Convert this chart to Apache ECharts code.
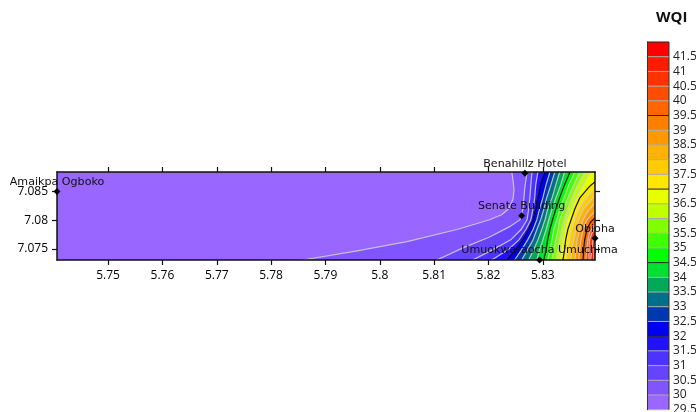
<!DOCTYPE html>
<html>
<head>
<meta charset="utf-8">
<script src="https://cdn.jsdelivr.net/npm/echarts@6/dist/echarts.min.js"></script>
<style>html,body{margin:0;padding:0;background:#fff}#c{width:696px;height:412px}</style>
</head>
<body>
<div id="c"></div>
<script>
const lonMin = 5.7406, lonMax = 5.8396, latMin = 7.0731, latMax = 7.0884;
const lonTicks = [5.75, 5.76, 5.77, 5.78, 5.79, 5.8, 5.81, 5.82, 5.83];
const latTicks = [7.075, 7.08, 7.085];
const levels = [29.5, 30, 30.5, 31, 31.5, 32, 32.5, 33, 33.5, 34, 34.5, 35, 35.5, 36, 36.5, 37, 37.5, 38, 38.5, 39, 39.5, 40, 40.5, 41, 41.5];
const blackLevels = [32, 34.5, 37, 39.5];
const bandColors = ['#9966ff', '#8055ff', '#6644ff', '#4d33ff', '#2211ff', '#0000f0', '#0038b0', '#007088', '#00a858', '#00e030', '#00ff00', '#40ff00', '#80ff00', '#bfff00', '#e8ff00', '#ffe600', '#ffcc00', '#ffb300', '#ff9900', '#ff8000', '#ff6600', '#ff4d00', '#ff3300', '#ff1a00', '#ff0000'];
const colorbarMax = 42;

const siteNames = ['Benahillz Hotel', 'Senate Building', 'Obioha', 'Umuokwaraocha Umuchima', 'Amaikpa Ogboko'];
const siteLon = [5.8267, 5.8261, 5.8396, 5.8294, 5.7406];
const siteLat = [7.0882, 7.0808, 7.0769, 7.0731, 7.0850];

const rowLat = [7.0731, 7.0749, 7.0766, 7.0784, 7.0801, 7.0820, 7.0839, 7.0862, 7.0884];
const lon31 = [5.8171, 5.8208, 5.8241, 5.8260, 5.8271, 5.8274, 5.8276, 5.8278, 5.8280];
const lon315 = [5.8206, 5.8236, 5.8256, 5.8269, 5.8278, 5.8282, 5.8285, 5.8287, 5.8291];
const lon32 = [5.8234, 5.8250, 5.8263, 5.8274, 5.8282, 5.8287, 5.8291, 5.8296, 5.8304];
const lon325 = [5.8248, 5.8261, 5.8272, 5.8282, 5.8289, 5.8294, 5.8300, 5.8306, 5.8313];
const lon33 = [5.8261, 5.8272, 5.8282, 5.8289, 5.8296, 5.8302, 5.8307, 5.8315, 5.8322];
const lon335 = [5.8274, 5.8283, 5.8291, 5.8298, 5.8304, 5.8309, 5.8317, 5.8324, 5.8331];
const lon34 = [5.8289, 5.8294, 5.8300, 5.8306, 5.8311, 5.8317, 5.8324, 5.8333, 5.8340];
const lon345 = [5.8302, 5.8306, 5.8309, 5.8313, 5.8318, 5.8324, 5.8331, 5.8340, 5.8350];
const lon35 = [5.8309, 5.8313, 5.8317, 5.8320, 5.8326, 5.8331, 5.8339, 5.8348, 5.8359];
const lon355 = [5.8317, 5.8320, 5.8324, 5.8328, 5.8331, 5.8339, 5.8346, 5.8357, 5.8368];
const lon36 = [5.8324, 5.8328, 5.8331, 5.8335, 5.8339, 5.8346, 5.8353, 5.8364, 5.8377];
const lon365 = [5.8331, 5.8333, 5.8337, 5.8340, 5.8344, 5.8352, 5.8361, 5.8374, 5.8386];

const line295 = [[5.7406, 7.0731], [5.7406, 7.0884]];
const line30 = [[5.7858, 7.0731], [5.7958, 7.0747], [5.8050, 7.0763], [5.8142, 7.0784], [5.8202, 7.0801], [5.8225, 7.0810], [5.8237, 7.0820], [5.8245, 7.0836], [5.8247, 7.0853], [5.8245, 7.0870], [5.8243, 7.0884]];
const line305 = [[5.8105, 7.0731], [5.8153, 7.0752], [5.8202, 7.0771], [5.8239, 7.0789], [5.8258, 7.0801], [5.8263, 7.0818], [5.8265, 7.0836], [5.8267, 7.0858], [5.8271, 7.0884]];
const line37 = [[5.8337, 7.0731], [5.8340, 7.0749], [5.8342, 7.0766], [5.8346, 7.0784], [5.8352, 7.0801], [5.8359, 7.0820], [5.8368, 7.0839], [5.8386, 7.0859], [5.8396, 7.0867]];
const line375 = [[5.8344, 7.0731], [5.8346, 7.0749], [5.8350, 7.0766], [5.8353, 7.0784], [5.8359, 7.0801], [5.8366, 7.0818], [5.8377, 7.0836], [5.8396, 7.0855]];
const line38 = [[5.8352, 7.0731], [5.8353, 7.0749], [5.8357, 7.0766], [5.8361, 7.0784], [5.8366, 7.0801], [5.8375, 7.0820], [5.8396, 7.0843]];
const line385 = [[5.8359, 7.0731], [5.8361, 7.0749], [5.8363, 7.0766], [5.8368, 7.0784], [5.8374, 7.0801], [5.8383, 7.0816], [5.8396, 7.0830]];
const line39 = [[5.8366, 7.0731], [5.8368, 7.0749], [5.8370, 7.0766], [5.8374, 7.0784], [5.8381, 7.0801], [5.8396, 7.0816]];
const line395 = [[5.8374, 7.0731], [5.8375, 7.0749], [5.8377, 7.0766], [5.8381, 7.0784], [5.8388, 7.0797], [5.8396, 7.0804]];
const line40 = [[5.8379, 7.0731], [5.8381, 7.0749], [5.8383, 7.0766], [5.8386, 7.0780], [5.8396, 7.0792]];
const line405 = [[5.8385, 7.0731], [5.8385, 7.0749], [5.8386, 7.0766], [5.8390, 7.0777], [5.8396, 7.0786]];
const line41 = [[5.8388, 7.0731], [5.8390, 7.0749], [5.8392, 7.0764], [5.8396, 7.0773]];
const line415 = [[5.8394, 7.0731], [5.8394, 7.0749], [5.8396, 7.0761]];

const onRows = lons => lons.map((lon, i) => [lon, rowLat[i]]);
const isolines = [line295, line30, line305, onRows(lon31), onRows(lon315), onRows(lon32), onRows(lon325), onRows(lon33), onRows(lon335), onRows(lon34), onRows(lon345), onRows(lon35), onRows(lon355), onRows(lon36), onRows(lon365), line37, line375, line38, line385, line39, line395, line40, line405, line41, line415];

const textFont = '"Open Sans", sans-serif';
const frame = { show: true, onZero: false, lineStyle: { color: '#111', width: 1.5 } };
const lonAxis = (position, showLabel) => ({
  type: 'value', gridIndex: 0, position, min: lonMin, max: lonMax, z: 4,
  splitLine: { show: false }, axisLine: frame,
  axisTick: { show: true, length: 5, customValues: lonTicks, lineStyle: { color: '#111', width: 1.2 } },
  axisLabel: { show: showLabel, customValues: lonTicks, color: '#000', fontFamily: textFont, fontSize: 12, margin: 10, formatter: v => String(v) }
});
const latAxis = (position, showLabel) => ({
  type: 'value', gridIndex: 0, position, min: latMin, max: latMax, z: 4,
  splitLine: { show: false }, axisLine: frame,
  axisTick: { show: true, length: 5, customValues: latTicks, lineStyle: { color: '#111', width: 1.2 } },
  axisLabel: { show: showLabel, customValues: latTicks, color: '#000', fontFamily: textFont, fontSize: 12, margin: 9, formatter: v => String(v) }
});

const chart = echarts.init(document.getElementById('c'), null, { renderer: 'canvas' });
chart.setOption({
  animation: false,
  backgroundColor: '#fff',
  title: { text: 'WQI', left: 651, top: 5, textStyle: { fontFamily: textFont, fontSize: 15, fontWeight: 'bold', color: '#111' } },
  grid: [
    { left: 57, top: 172, width: 538, height: 88, outerBoundsMode: 'none' },
    { left: 647, top: 42, width: 22, height: 367.7, outerBoundsMode: 'none' }
  ],
  xAxis: [
    lonAxis('bottom', true),
    lonAxis('top', false),
    { type: 'value', gridIndex: 1, min: 0, max: 1, show: false }
  ],
  yAxis: [
    latAxis('left', true),
    latAxis('right', false),
    {
      type: 'value', gridIndex: 1, position: 'right', min: 29.5, max: colorbarMax, interval: 0.5, z: 4,
      splitLine: { show: false },
      axisLine: { show: true, lineStyle: { color: '#333', width: 1 } },
      axisTick: { show: false },
      axisLabel: { show: true, showMaxLabel: false, hideOverlap: false, color: '#222', fontFamily: textFont, fontSize: 12, margin: 4, formatter: v => String(v) }
    }
  ],
  series: [
    {
      type: 'custom', xAxisIndex: 0, yAxisIndex: 0, clip: true, z: 2,
      coordinateSystem: 'cartesian2d',
      data: levels.map((l, i) => [i]),
      encode: { x: [], y: [] },
      renderItem(params, api) {
        const i = api.value(0);
        const line = isolines[i];
        const last = line[line.length - 1];
        const closing = (last[1] >= latMax ? [[lonMax, latMax]] : []).concat([[lonMax, latMin]]);
        const edge = line.map(p => api.coord(p));
        const children = [{
          type: 'polygon',
          shape: { points: edge.concat(closing.map(p => api.coord(p))) },
          style: { fill: bandColors[i], stroke: null }
        }];
        if (i > 0) {
          const black = blackLevels.includes(levels[i]);
          children.push({
            type: 'polyline',
            shape: { points: edge },
            style: { fill: null, stroke: black ? '#111' : 'rgba(205,205,205,0.9)', lineWidth: 1.2 }
          });
        }
        return { type: 'group', children };
      }
    },
    {
      type: 'custom', xAxisIndex: 2, yAxisIndex: 2, z: 2,
      coordinateSystem: 'cartesian2d',
      data: levels.map((l, i) => [i]),
      encode: { x: [], y: [] },
      renderItem(params, api) {
        const i = api.value(0);
        const top = i + 1 < levels.length ? levels[i + 1] : colorbarMax;
        const a = api.coord([0, levels[i]]);
        const b = api.coord([1, top]);
        const black = blackLevels.includes(levels[i]);
        return {
          type: 'group',
          children: [
            { type: 'rect', shape: { x: a[0], y: b[1], width: b[0] - a[0], height: a[1] - b[1] }, style: { fill: bandColors[i] } },
            { type: 'line', shape: { x1: a[0], y1: a[1], x2: b[0], y2: a[1] }, style: { stroke: black ? '#222' : '#aaa', lineWidth: 1 } },
            { type: 'line', shape: { x1: a[0], y1: b[1], x2: b[0], y2: b[1] }, style: { stroke: i + 1 === levels.length ? '#222' : 'transparent', lineWidth: 1 } },
            { type: 'line', shape: { x1: b[0], y1: a[1], x2: b[0], y2: b[1] }, style: { stroke: '#333', lineWidth: 1 } }
          ]
        };
      }
    },
    {
      type: 'scatter', xAxisIndex: 0, yAxisIndex: 0, z: 6, clip: false,
      symbol: 'diamond', symbolSize: 7,
      itemStyle: { color: '#000', opacity: 1 },
      data: siteNames.map((n, i) => ({ name: n, value: [siteLon[i], siteLat[i]] })),
      label: {
        show: true, position: 'top', distance: 0.5, offset: [-1, 0],
        formatter: p => p.name,
        color: '#111', fontFamily: '"DejaVu Sans", sans-serif', fontSize: 11.1
      },
      labelLayout: { hideOverlap: false }
    }
  ]
});
</script>
</body>
</html>
